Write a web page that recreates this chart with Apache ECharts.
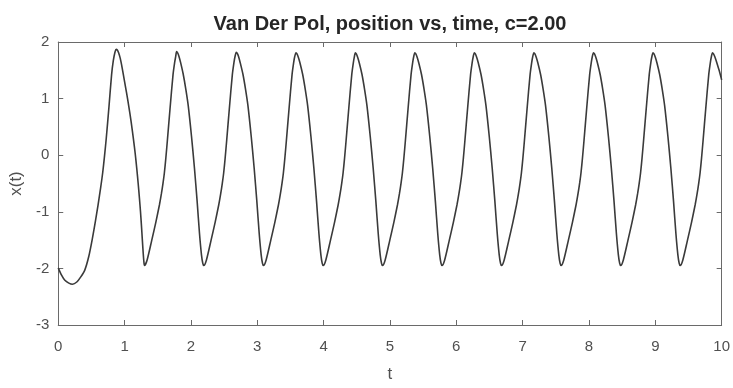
<!DOCTYPE html>
<html>
<head>
<meta charset="utf-8">
<script src="https://cdn.jsdelivr.net/npm/echarts@6/dist/echarts.min.js"></script>
<style>
html,body{margin:0;padding:0;background:#fff;}
#chart{width:733px;height:388px;}
</style>
</head>
<body>
<div id="chart"></div>
<script>
const titleText = 'Van Der Pol, position vs, time, c=2.00';
const xName = 't';
const yName = 'x(t)';

const time = [
  0, 0.05, 0.10, 0.16, 0.214, 0.28, 0.34, 0.40, 0.46, 0.515, 0.56, 0.60, 0.64, 0.67, 0.697, 0.724, 0.765, 0.804, 0.83, 0.855, 0.874,
  0.89, 0.91, 0.935, 0.964, 1.00, 1.03, 1.064, 1.10, 1.134, 1.16, 1.184, 1.205, 1.224, 1.24, 1.254, 1.268, 1.28, 1.29, 1.30,
  1.34, 1.41, 1.47, 1.525, 1.555, 1.58, 1.60, 1.622, 1.645, 1.685, 1.73, 1.755, 1.77, 1.784,
  1.799, 1.819, 1.844, 1.884, 1.924, 1.959, 2.009, 2.054, 2.094, 2.129, 2.159, 2.179, 2.194,
  2.234, 2.304, 2.364, 2.419, 2.449, 2.474, 2.494, 2.516, 2.539, 2.579, 2.624, 2.649, 2.664, 2.684,
  2.699, 2.719, 2.744, 2.784, 2.824, 2.859, 2.909, 2.954, 2.994, 3.029, 3.059, 3.079, 3.094,
  3.134, 3.204, 3.264, 3.319, 3.349, 3.374, 3.394, 3.416, 3.439, 3.479, 3.524, 3.549, 3.564, 3.584,
  3.599, 3.619, 3.644, 3.684, 3.724, 3.759, 3.809, 3.854, 3.894, 3.929, 3.959, 3.979, 3.994,
  4.034, 4.104, 4.164, 4.219, 4.249, 4.274, 4.294, 4.316, 4.339, 4.379, 4.424, 4.449, 4.464, 4.478,
  4.493, 4.513, 4.538, 4.578, 4.618, 4.653, 4.703, 4.748, 4.788, 4.823, 4.853, 4.873, 4.888,
  4.928, 4.998, 5.058, 5.113, 5.143, 5.168, 5.188, 5.21, 5.233, 5.273, 5.318, 5.343, 5.358, 5.375,
  5.39, 5.41, 5.435, 5.475, 5.515, 5.55, 5.60, 5.645, 5.685, 5.72, 5.75, 5.77, 5.785,
  5.825, 5.895, 5.955, 6.01, 6.04, 6.065, 6.085, 6.107, 6.13, 6.17, 6.215, 6.24, 6.255, 6.272,
  6.287, 6.307, 6.332, 6.372, 6.412, 6.447, 6.497, 6.542, 6.582, 6.617, 6.647, 6.667, 6.682,
  6.722, 6.792, 6.852, 6.907, 6.937, 6.962, 6.982, 7.004, 7.027, 7.067, 7.112, 7.137, 7.152, 7.17,
  7.185, 7.205, 7.23, 7.27, 7.31, 7.345, 7.395, 7.44, 7.48, 7.515, 7.545, 7.565, 7.58,
  7.62, 7.69, 7.75, 7.805, 7.835, 7.86, 7.88, 7.902, 7.925, 7.965, 8.01, 8.035, 8.05, 8.068,
  8.083, 8.103, 8.128, 8.168, 8.208, 8.243, 8.293, 8.338, 8.378, 8.413, 8.443, 8.463, 8.478,
  8.518, 8.588, 8.648, 8.703, 8.733, 8.758, 8.778, 8.80, 8.823, 8.863, 8.908, 8.933, 8.948, 8.965,
  8.98, 9.00, 9.025, 9.065, 9.105, 9.14, 9.19, 9.235, 9.275, 9.31, 9.34, 9.36, 9.375,
  9.415, 9.485, 9.545, 9.60, 9.63, 9.655, 9.675, 9.697, 9.72, 9.76, 9.805, 9.83, 9.845, 9.862,
  9.877, 9.897, 9.922, 9.962, 10.0
];

const position = [
  -1.99, -2.12, -2.21, -2.26, -2.28, -2.24, -2.15, -2.03, -1.79, -1.47, -1.17, -0.88, -0.57, -0.31, -0.02, 0.30, 0.86, 1.42, 1.67, 1.82, 1.87,
  1.86, 1.81, 1.71, 1.54, 1.30, 1.10, 0.86, 0.58, 0.28, 0.03, -0.24, -0.50, -0.76, -1.00, -1.24, -1.50, -1.72, -1.87, -1.95,
  -1.85, -1.50, -1.19, -0.88, -0.68, -0.49, -0.31, -0.05, 0.26, 0.82, 1.42, 1.64, 1.74, 1.83,
  1.81, 1.75, 1.64, 1.43, 1.16, 0.88, 0.33, -0.24, -0.82, -1.38, -1.76, -1.91, -1.95,
  -1.85, -1.50, -1.19, -0.88, -0.68, -0.49, -0.31, -0.05, 0.26, 0.82, 1.42, 1.64, 1.74, 1.82,
  1.80, 1.74, 1.63, 1.43, 1.16, 0.88, 0.33, -0.24, -0.82, -1.38, -1.76, -1.91, -1.95,
  -1.85, -1.50, -1.19, -0.88, -0.68, -0.49, -0.31, -0.05, 0.26, 0.82, 1.42, 1.64, 1.74, 1.81,
  1.79, 1.73, 1.63, 1.43, 1.16, 0.88, 0.33, -0.24, -0.82, -1.38, -1.76, -1.91, -1.95,
  -1.85, -1.50, -1.19, -0.88, -0.68, -0.49, -0.31, -0.05, 0.26, 0.82, 1.42, 1.64, 1.74, 1.81,
  1.79, 1.73, 1.63, 1.43, 1.16, 0.88, 0.33, -0.24, -0.82, -1.38, -1.76, -1.91, -1.95,
  -1.85, -1.50, -1.19, -0.88, -0.68, -0.49, -0.31, -0.05, 0.26, 0.82, 1.42, 1.64, 1.74, 1.81,
  1.79, 1.73, 1.63, 1.43, 1.16, 0.88, 0.33, -0.24, -0.82, -1.38, -1.76, -1.91, -1.95,
  -1.85, -1.50, -1.19, -0.88, -0.68, -0.49, -0.31, -0.05, 0.26, 0.82, 1.42, 1.64, 1.74, 1.81,
  1.79, 1.73, 1.63, 1.43, 1.16, 0.88, 0.33, -0.24, -0.82, -1.38, -1.76, -1.91, -1.95,
  -1.85, -1.50, -1.19, -0.88, -0.68, -0.49, -0.31, -0.05, 0.26, 0.82, 1.42, 1.64, 1.74, 1.81,
  1.79, 1.73, 1.63, 1.43, 1.16, 0.88, 0.33, -0.24, -0.82, -1.38, -1.76, -1.91, -1.95,
  -1.85, -1.50, -1.19, -0.88, -0.68, -0.49, -0.31, -0.05, 0.26, 0.82, 1.42, 1.64, 1.74, 1.81,
  1.79, 1.73, 1.63, 1.43, 1.16, 0.88, 0.33, -0.24, -0.82, -1.38, -1.76, -1.91, -1.95,
  -1.85, -1.50, -1.19, -0.88, -0.68, -0.49, -0.31, -0.05, 0.26, 0.82, 1.42, 1.64, 1.74, 1.81,
  1.79, 1.73, 1.63, 1.43, 1.16, 0.88, 0.33, -0.24, -0.82, -1.38, -1.76, -1.91, -1.95,
  -1.85, -1.50, -1.19, -0.88, -0.68, -0.49, -0.31, -0.05, 0.26, 0.82, 1.42, 1.64, 1.74, 1.81,
  1.79, 1.74, 1.65, 1.50, 1.33
];

const seriesData = time.map((t, i) => [t, position[i]]);

const axisColor = '#6a6a6a';
const labelColor = '#505050';
const font = '"Liberation Sans", Arial, Helvetica, sans-serif';

const chart = echarts.init(document.getElementById('chart'), null, {renderer: 'canvas'});
chart.setOption({
  animation: false,
  backgroundColor: '#ffffff',
  title: {
    text: titleText,
    left: 385,
    top: 9,
    textAlign: 'center',
    textStyle: {fontFamily: font, fontSize: 20, fontWeight: 'bold', color: '#262626'}
  },
  grid: {left: 57, right: 10, top: 42, bottom: 60, containLabel: false},
  xAxis: [
    {
      type: 'value', min: 0, max: 10, interval: 1, position: 'bottom',
      name: xName, nameLocation: 'middle', nameGap: 41,
      nameTextStyle: {fontFamily: font, fontSize: 17, color: labelColor},
      axisLine: {show: true, onZero: false, lineStyle: {color: axisColor, width: 1}},
      axisTick: {show: true, inside: true, length: 5, lineStyle: {color: axisColor}},
      axisLabel: {margin: 14, fontFamily: font, fontSize: 15, color: labelColor},
      splitLine: {show: false}
    },
    {
      type: 'value', min: 0, max: 10, interval: 1, position: 'top',
      axisLine: {show: true, onZero: false, lineStyle: {color: axisColor, width: 1}},
      axisTick: {show: true, inside: true, length: 5, lineStyle: {color: axisColor}},
      axisLabel: {show: false},
      splitLine: {show: false}
    }
  ],
  yAxis: [
    {
      type: 'value', min: -3, max: 2, interval: 1, position: 'left',
      name: yName, nameLocation: 'middle', nameGap: 30, nameRotate: 90,
      nameTextStyle: {fontFamily: font, fontSize: 17, color: labelColor},
      axisLine: {show: true, onZero: false, lineStyle: {color: axisColor, width: 1}},
      axisTick: {show: true, inside: true, length: 5, lineStyle: {color: axisColor}},
      axisLabel: {margin: 9, fontFamily: font, fontSize: 15, color: labelColor},
      splitLine: {show: false}
    },
    {
      type: 'value', min: -3, max: 2, interval: 1, position: 'right',
      axisLine: {show: true, onZero: false, lineStyle: {color: axisColor, width: 1}},
      axisTick: {show: true, inside: true, length: 5, lineStyle: {color: axisColor}},
      axisLabel: {show: false},
      splitLine: {show: false}
    }
  ],
  series: [{
    type: 'line',
    xAxisIndex: 0,
    yAxisIndex: 0,
    data: seriesData,
    showSymbol: false,
    smooth: 0.25,
    lineStyle: {color: '#3a3a3a', width: 1.6},
    clip: true
  }]
});
</script>
</body>
</html>
